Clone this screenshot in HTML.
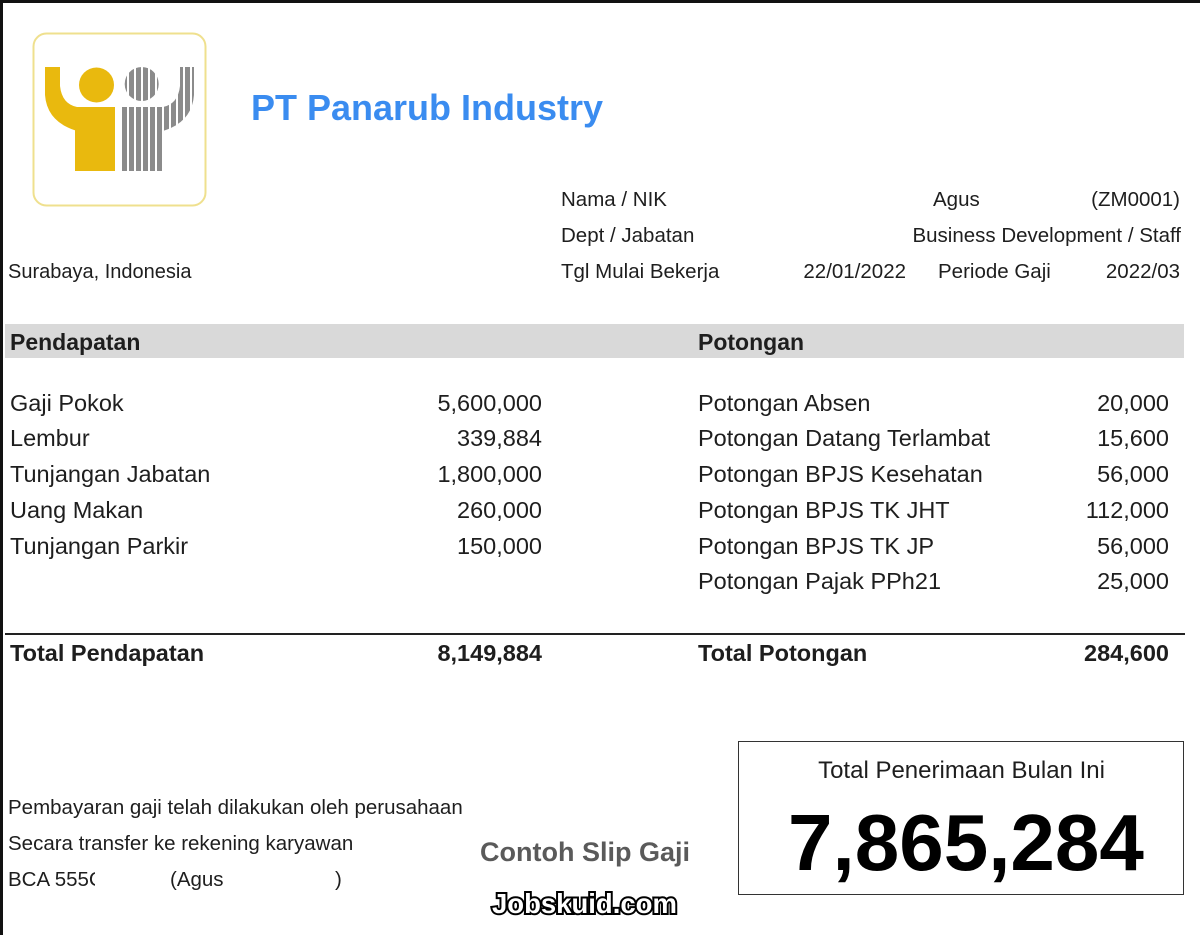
<!DOCTYPE html>
<html>
<head>
<meta charset="utf-8">
<style>
  html,body{margin:0;padding:0;}
  body{width:1200px;height:935px;position:relative;overflow:hidden;background:#fff;
       font-family:"Liberation Sans",Arial,sans-serif;color:#1e1e1e;}
  .t{position:absolute;white-space:nowrap;line-height:1;}
  .r{text-align:right;}
  .b{font-weight:bold;}
  .row{font-size:23.5px;}
  .inf{font-size:20.5px;}
  .ft{font-size:20.5px;}
</style>
</head>
<body>
<!-- sheet borders -->
<div style="position:absolute;left:0;top:0;width:1200px;height:3px;background:#111;"></div>
<div style="position:absolute;left:0;top:0;width:3px;height:935px;background:#111;"></div>

<!-- logo -->
<svg style="position:absolute;left:0;top:0" width="230" height="230" viewBox="0 0 230 230">
  <defs>
    <pattern id="st" x="122" y="0" width="7" height="10" patternUnits="userSpaceOnUse">
      <rect x="0" y="0" width="5" height="10" fill="#8b8b8b"/>
    </pattern>
  </defs>
  <rect x="33.5" y="33.5" width="172" height="172" rx="13" ry="13" fill="#fff" stroke="#efe08e" stroke-width="2"/>
  <!-- yellow figure -->
  <path d="M45,67 H60 V86 Q62,104 77,107 V131 Q47,122 45,95 Z" fill="#e9b90e"/>
  <rect x="75" y="107" width="40" height="64" fill="#e9b90e"/>
  <circle cx="96.5" cy="85" r="17.5" fill="#e9b90e"/>
  <!-- gray striped figure -->
  <circle cx="141.7" cy="84" r="17" fill="url(#st)"/>
  <rect x="122" y="107" width="42" height="64" fill="url(#st)"/>
  <path d="M194,67 H180 V86 Q178,104 163,107 V131 Q192,122 194,95 Z" fill="url(#st)"/>
</svg>

<!-- title -->
<div class="t b" style="left:251px;top:89.5px;font-size:36px;color:#3a8cf0;">PT Panarub Industry</div>

<!-- info block -->
<div class="t inf" style="left:561px;top:190px;">Nama / NIK</div>
<div class="t inf" style="left:933px;top:190px;">Agus</div>
<div class="t inf r" style="right:20px;top:190px;">(ZM0001)</div>

<div class="t inf" style="left:561px;top:226px;">Dept / Jabatan</div>
<div class="t inf r" style="right:19px;top:226px;">Business Development / Staff</div>

<div class="t" style="left:8px;top:262px;font-size:20px;">Surabaya, Indonesia</div>
<div class="t inf" style="left:561px;top:262px;">Tgl Mulai Bekerja</div>
<div class="t inf r" style="right:294px;top:262px;">22/01/2022</div>
<div class="t inf" style="left:938px;top:262px;">Periode Gaji</div>
<div class="t inf r" style="right:20px;top:262px;">2022/03</div>

<!-- gray header band -->
<div style="position:absolute;left:5px;top:324px;width:1179px;height:34px;background:#d9d9d9;"></div>
<div class="t b" style="left:10px;top:330.5px;font-size:23px;">Pendapatan</div>
<div class="t b" style="left:698px;top:330.5px;font-size:23px;">Potongan</div>

<!-- left rows -->
<div class="t row" style="left:10px;top:392px;">Gaji Pokok</div>
<div class="t row r" style="right:658px;top:392px;">5,600,000</div>
<div class="t row" style="left:10px;top:427px;">Lembur</div>
<div class="t row r" style="right:658px;top:427px;">339,884</div>
<div class="t row" style="left:10px;top:463px;">Tunjangan Jabatan</div>
<div class="t row r" style="right:658px;top:463px;">1,800,000</div>
<div class="t row" style="left:10px;top:499px;">Uang Makan</div>
<div class="t row r" style="right:658px;top:499px;">260,000</div>
<div class="t row" style="left:10px;top:535px;">Tunjangan Parkir</div>
<div class="t row r" style="right:658px;top:535px;">150,000</div>

<!-- right rows -->
<div class="t row" style="left:698px;top:392px;">Potongan Absen</div>
<div class="t row r" style="right:31px;top:392px;">20,000</div>
<div class="t row" style="left:698px;top:427px;">Potongan Datang Terlambat</div>
<div class="t row r" style="right:31px;top:427px;">15,600</div>
<div class="t row" style="left:698px;top:463px;">Potongan BPJS Kesehatan</div>
<div class="t row r" style="right:31px;top:463px;">56,000</div>
<div class="t row" style="left:698px;top:499px;">Potongan BPJS TK JHT</div>
<div class="t row r" style="right:31px;top:499px;">112,000</div>
<div class="t row" style="left:698px;top:535px;">Potongan BPJS TK JP</div>
<div class="t row r" style="right:31px;top:535px;">56,000</div>
<div class="t row" style="left:698px;top:570px;">Potongan Pajak PPh21</div>
<div class="t row r" style="right:31px;top:570px;">25,000</div>

<!-- total line -->
<div style="position:absolute;left:5px;top:633px;width:1180px;height:2px;background:#222;"></div>
<div class="t row b" style="left:10px;top:642px;">Total Pendapatan</div>
<div class="t row b r" style="right:658px;top:642px;">8,149,884</div>
<div class="t row b" style="left:698px;top:642px;">Total Potongan</div>
<div class="t row b r" style="right:31px;top:642px;">284,600</div>

<!-- total box -->
<div style="position:absolute;left:738px;top:741px;width:444px;height:152px;border:1.5px solid #333;"></div>
<div class="t" style="left:739px;width:445px;text-align:center;top:759px;font-size:24px;">Total Penerimaan Bulan Ini</div>
<div class="t b" style="left:788px;top:803px;font-size:80px;color:#000;">7,865,284</div>

<!-- footer -->
<div class="t ft" style="left:8px;top:798px;">Pembayaran gaji telah dilakukan oleh perusahaan</div>
<div class="t ft" style="left:8px;top:834px;">Secara transfer ke rekening karyawan</div>
<div class="t ft" style="left:8px;top:870px;width:87px;height:24px;overflow:hidden;">BCA 555C</div>
<div class="t ft" style="left:170px;top:870px;">(Agus</div>
<div class="t ft" style="left:335px;top:870px;">)</div>

<!-- watermark -->
<div class="t b" style="left:480px;top:839px;font-size:27px;color:#5a5a5a;">Contoh Slip Gaji</div>
<div class="t b" style="left:492px;top:889.5px;font-size:27.5px;color:#fff;-webkit-text-stroke:4px #000;paint-order:stroke fill;">Jobskuid.com</div>
</body>
</html>
